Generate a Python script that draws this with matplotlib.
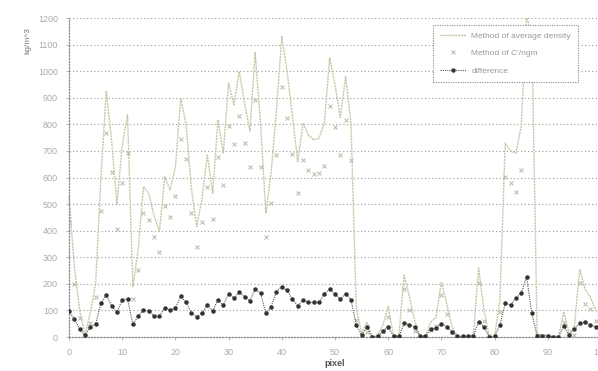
import matplotlib.pyplot as plt

# pixel index 0..100
pixel = list(range(101))

avg_density = [
    528, 265, 100, 8, 90, 200, 600, 925, 740, 500,
    720, 836, 190, 330, 566, 540, 455, 398, 603, 553,
    640, 899, 800, 560, 415, 520, 685, 540, 817, 692,
    955, 873, 999, 880, 775, 1070, 804, 467, 620, 855,
    1130, 1000, 830, 660, 805, 760, 742, 748, 805, 1050,
    950, 825, 980, 805, 110, 14, 55, 0, 6, 45,
    115, 3, 3, 233, 150, 60, 2, 2, 56, 75,
    208, 125, 40, 2, 2, 2, 5, 259, 100, 3,
    3, 140, 729, 700, 692, 792, 1200, 1150, 10, 8,
    5, 0, 0, 95, 15, 40, 255, 180, 150, 100,
    90,
]

c_ngm = [
    430, 198, 70, 2, 51, 152, 473, 768, 622, 407,
    581, 693, 142, 252, 465, 442, 377, 320, 493, 452,
    530, 745, 670, 468, 338, 431, 565, 443, 676, 572,
    792, 727, 830, 729, 638, 890, 639, 378, 506, 684,
    940, 825, 688, 543, 665, 630, 612, 618, 642, 870,
    789, 683, 817, 665, 65, 6, 19, 0, 3, 23,
    76, 1, 1, 182, 103, 22, 0, 0, 25, 41,
    158, 87, 20, 0, 0, 0, 0, 202, 61, 2,
    1, 95, 602, 579, 546, 628, 973, 1061, 6, 3,
    2, 0, 0, 55, 7, 9, 204, 123, 105, 62,
    54,
]

difference = [
    98, 67, 30, 6, 39, 48, 127, 157, 118, 93,
    139, 143, 48, 78, 101, 98, 78, 78, 110, 101,
    110, 154, 130, 92, 77, 89, 120, 97, 141, 120,
    163, 146, 169, 151, 137, 180, 165, 89, 114, 171,
    190, 175, 142, 117, 140, 130, 130, 130, 163, 180,
    161, 142, 163, 140, 45, 8, 36, 0, 3, 22,
    39, 2, 2, 51, 47, 38, 2, 2, 31, 34,
    50, 38, 20, 2, 2, 2, 5, 57, 39, 1,
    2, 45, 127, 121, 146, 164, 227, 89, 4, 5,
    3, 0, 0, 40, 8, 31, 51, 57, 45, 38,
    36,
]

y_ticks = list(range(0, 1201, 100))
x_ticks = list(range(0, 101, 10))

plt.rcParams['font.family'] = ['Liberation Sans', 'DejaVu Sans']

fig = plt.figure(figsize=(5.98, 3.71), dpi=100)
# right edge of the plot area lies just past the image border (cropped scan)
ax = fig.add_axes([0.1154, 0.0916, 0.8896, 0.8598])

grid_col = '#9a9a9a'
for v in y_ticks[1:]:
    ax.axhline(v, color=grid_col, lw=0.8, ls=(0, (1, 2.2)), zorder=0)

ax.plot(pixel, avg_density, color='#c4c8a4', lw=1.0, ls=(0, (1.5, 0.6)),
        label='Method of average density', zorder=2, clip_on=False)
ax.plot(pixel, c_ngm, ls='none', marker='x', ms=3.2, mew=0.7, color='#b8b8a8',
        label="Method of C'/ngm", zorder=3)
ax.plot(pixel, difference, color='#555555', lw=0.8, ls=(0, (1, 1)),
        marker='o', ms=2.2, mfc='#333333', mec='#333333',
        label='difference', zorder=4)

ax.set_xlim(0, 100)
ax.set_ylim(0, 1200)
ax.set_xticks(x_ticks)
ax.set_yticks(y_ticks)

for side in ['top', 'right']:
    ax.spines[side].set_visible(False)
for side in ['left', 'bottom']:
    ax.spines[side].set_color('#8a8a8a')
    ax.spines[side].set_linestyle((0, (1, 1.5)))
    ax.spines[side].set_linewidth(0.9)

ax.tick_params(axis='both', colors='#aaaaaa', labelsize=6.5, length=2, width=0.6)
ax.tick_params(axis='x', pad=6)
ax.tick_params(axis='y', pad=6)

ax.set_xlabel('pixel', fontsize=6.5, color='#555555', fontweight='bold', labelpad=1)
ax.set_ylabel('kg/m^3', fontsize=6, color='#777777')
ax.yaxis.set_label_coords(-0.07, 0.93)

leg = ax.legend(loc='upper left', bbox_to_anchor=(0.684, 0.978), fontsize=6,
                frameon=True, fancybox=False, framealpha=1, borderpad=0.8,
                labelspacing=1.2, handlelength=3.2, handletextpad=0.6,
                borderaxespad=0)
leg.get_frame().set_edgecolor('#8a8a8a')
leg.get_frame().set_facecolor('white')
leg.get_frame().set_linestyle((0, (1, 1.2)))
leg.get_frame().set_linewidth(0.8)
leg.set_zorder(10)
for t in leg.get_texts():
    t.set_color('#999999')

fig.savefig('out.png', dpi=100)
